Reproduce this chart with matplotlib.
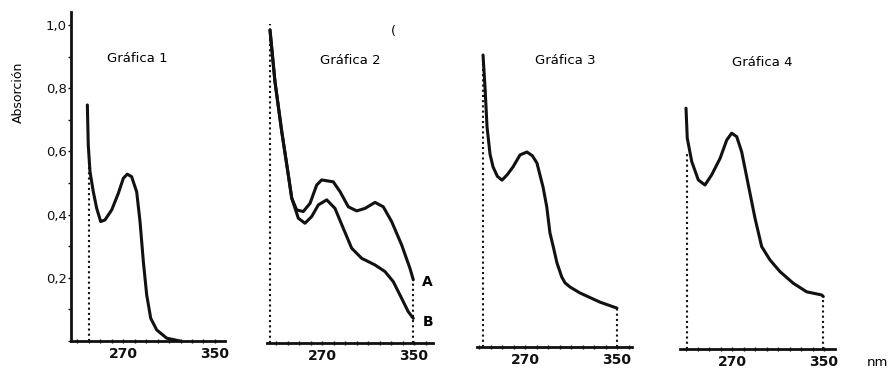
import matplotlib
matplotlib.use("Agg")
import matplotlib.pyplot as plt
from matplotlib.ticker import MultipleLocator

plt.rcParams.update({"font.family": "DejaVu Sans", "font.size": 9.5})

INK = "#111111"

# ---------- data (wavelength nm, absorbance) ----------
g1_nm = [239.0, 239.8, 241.3, 244.2, 247.1, 250.6, 254.3, 260.2, 265.9, 270.3, 273.7, 277.5,
         281.9, 284.8, 287.7, 290.6, 294.1, 299.3, 308.0, 319.6]
g1_abs = [0.747, 0.620, 0.536, 0.472, 0.420, 0.378, 0.383, 0.415, 0.467, 0.515, 0.528, 0.520,
          0.472, 0.378, 0.251, 0.146, 0.072, 0.035, 0.009, 0.0]

g2_common_nm = [224.8, 229.1, 235.0, 240.7, 243.7]
g2_common_abs = [0.990, 0.827, 0.669, 0.532, 0.458]
g2a_nm = [248.0, 253.7, 259.6, 265.4, 269.7, 279.8, 285.7, 292.9, 300.2, 307.4, 316.1, 323.3,
          330.6, 339.3, 346.5, 349.4]
g2a_abs = [0.421, 0.416, 0.442, 0.500, 0.516, 0.510, 0.479, 0.431, 0.418, 0.426, 0.445, 0.431,
           0.384, 0.310, 0.236, 0.200]
g2b_nm = [249.4, 255.2, 261.0, 266.8, 274.1, 281.3, 288.5, 295.8, 304.5, 316.1, 324.8, 332.0,
          339.3, 345.0, 349.4]
g2b_abs = [0.395, 0.379, 0.400, 0.437, 0.453, 0.426, 0.363, 0.300, 0.268, 0.247, 0.226, 0.194,
           0.141, 0.099, 0.078]

g3_nm = [233.5, 235.2, 237.0, 239.6, 242.2, 246.0, 250.0, 254.5, 259.6, 265.7, 271.7, 276.5,
         280.4, 285.7, 288.9, 291.7, 294.6, 297.8, 301.9, 304.8, 309.1, 317.8, 335.2, 350.0]
g3_abs = [0.924, 0.824, 0.696, 0.610, 0.570, 0.540, 0.528, 0.545, 0.570, 0.608, 0.617, 0.605,
          0.582, 0.506, 0.444, 0.361, 0.317, 0.266, 0.222, 0.203, 0.190, 0.171, 0.142, 0.123]

g4_nm = [230.0, 231.1, 235.0, 240.7, 246.5, 252.3, 259.6, 265.4, 269.7, 274.1, 278.4, 284.2,
         290.0, 295.8, 303.0, 311.7, 323.3, 334.9, 348.0, 349.4]
g4_abs = [0.762, 0.667, 0.593, 0.535, 0.519, 0.551, 0.603, 0.661, 0.683, 0.672, 0.624, 0.519,
          0.414, 0.324, 0.282, 0.245, 0.208, 0.181, 0.171, 0.166]

titles = ["Gráfica 1", "Gráfica 2", "Gráfica 3", "Gráfica 4"]
xtick_vals = [270, 350]
ytick_vals = [0.2, 0.4, 0.6, 0.8, 1.0]
ytick_labels = ["0,2", "0,4", "0,6", "0,8", "1,0"]

W, H = 896, 370
fig = plt.figure(figsize=(W / 100, H / 100), dpi=100)

# panel geometry in pixels: left, right, baseline, x position of 270 nm
PX_PER_NM = 1.15
PX_PER_ABS = 316
panels = [(71, 225, 341, 123), (267, 433, 343, 322), (477, 632, 347, 525), (680, 835, 349, 732)]
title_pos = [(137, 58), (350, 60), (565, 60), (762, 62)]

axes = []
for (l, r, base, x270) in panels:
    ax = fig.add_axes([l / W, (H - base) / H, (r - l) / W, 329 / H])
    ax.set_xlim(270 + (l - x270) / PX_PER_NM, 270 + (r - x270) / PX_PER_NM)
    ax.set_ylim(0, 329 / PX_PER_ABS)
    for s in ["top", "right", "left"]:
        ax.spines[s].set_visible(False)
    ax.spines["bottom"].set_linewidth(2)
    ax.spines["bottom"].set_color(INK)
    ax.set_xticks(xtick_vals)
    ax.set_xticklabels([str(v) for v in xtick_vals], fontweight="bold", fontsize=10)
    ax.xaxis.set_minor_locator(MultipleLocator(10))
    ax.tick_params(axis="x", which="both", direction="inout", length=3, width=1, colors=INK, pad=3)
    ax.set_yticks([])
    ax.patch.set_alpha(0)
    axes.append(ax)

# first panel carries the absorbance axis
ax1 = axes[0]
ax1.spines["left"].set_visible(True)
ax1.spines["left"].set_linewidth(2)
ax1.spines["left"].set_color(INK)
ax1.set_yticks(ytick_vals)
ax1.set_yticklabels(ytick_labels, fontsize=9.5)
ax1.yaxis.set_minor_locator(MultipleLocator(0.1))
ax1.tick_params(axis="y", which="both", direction="out", length=2, width=1, colors=INK, pad=1)

line = dict(color=INK, lw=2.2, solid_joinstyle="round", solid_capstyle="round")
dot = dict(color=INK, lw=1.5, ls=(0, (1, 1.5)))

# Gráfica 1
ax1.plot(g1_nm, g1_abs, **line)
ax1.vlines(240, 0, 0.58, **dot)

# Gráfica 2
ax2 = axes[1]
ax2.plot(g2_common_nm + g2a_nm, g2_common_abs + g2a_abs, **line)
ax2.plot(g2_common_nm + g2b_nm, g2_common_abs + g2b_abs, **line)
ax2.vlines(g2_common_nm[0], 0, 1.01, **dot)
ax2.vlines(349.4, 0, g2a_abs[-1], **dot)
ax2.text(362, 0.193, "A", fontsize=10, fontweight="bold", ha="center", va="center", clip_on=False)
ax2.text(362, 0.068, "B", fontsize=10, fontweight="bold", ha="center", va="center", clip_on=False)

# Gráfica 3
ax3 = axes[2]
ax3.plot(g3_nm, g3_abs, **line)
ax3.vlines(g3_nm[0], 0, g3_abs[0], **dot)
ax3.vlines(350, 0, g3_abs[-1], **dot)

# Gráfica 4
ax4 = axes[3]
ax4.plot(g4_nm, g4_abs, **line)
ax4.vlines(230.6, 0, 0.62, **dot)
ax4.vlines(349.4, 0, g4_abs[-1], **dot)

for t, (x, y) in zip(titles, title_pos):
    fig.text(x / W, 1 - y / H, t, ha="center", va="center", fontsize=9.5)

fig.text(18 / W, 1 - 92 / H, "Absorción", rotation=90, ha="center", va="center", fontsize=9)
fig.text(877 / W, 1 - 363 / H, "nm", ha="center", va="center", fontsize=9.5)
fig.text(393 / W, 1 - 32 / H, "(", ha="center", va="center", fontsize=9)

fig.savefig("out.png", dpi=100)
